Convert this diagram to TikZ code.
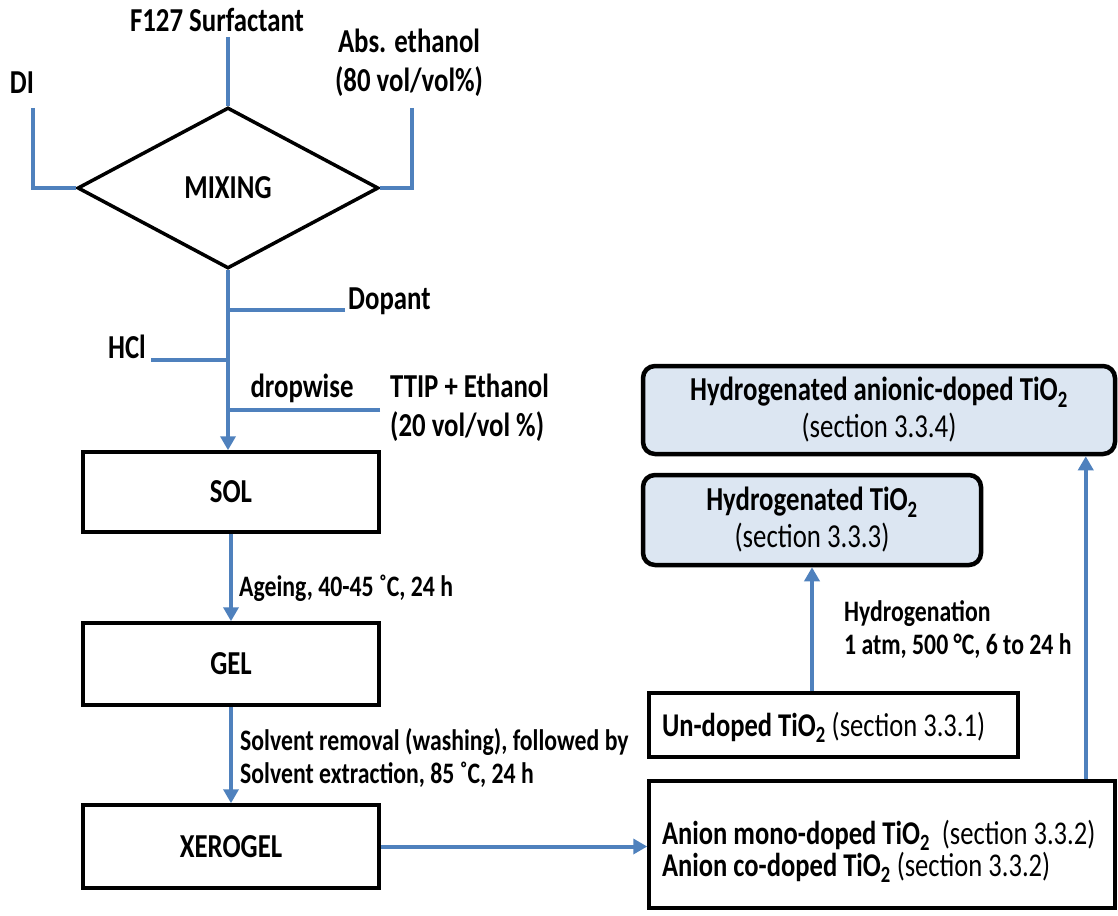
\documentclass[tikz,border=0pt]{standalone}
\usepackage{fontspec}
\setmainfont{Carlito}[FakeStretch=0.8]
\usetikzlibrary{shapes.geometric, arrows.meta, positioning}

\definecolor{flowblue}{HTML}{4F81BD}
\definecolor{resultfill}{HTML}{DCE6F2}

\newcommand{\bigtext}{\fontsize{33.5}{33}\selectfont\bfseries}
\newcommand{\labeltext}{\fontsize{29.7}{33}\selectfont\bfseries}

\tikzset{
  txt/.style={inner sep=0pt, font=\bigtext},
  lbl/.style={inner sep=0pt, anchor=west, align=left, font=\labeltext},
  stage/.style={draw, line width=3.5pt, minimum width=296pt, inner sep=0pt, font=\bigtext},
  mixer/.style={draw, diamond, line width=3.5pt, aspect=1.87, inner sep=0pt,
    minimum width=301pt, minimum height=161pt, font=\bigtext},
  result/.style={draw, line width=4.5pt, rounded corners=12pt, fill=resultfill,
    align=center, inner sep=0pt, font=\fontsize{33.5}{37}\selectfont\bfseries},
  product/.style={draw, line width=3.5pt, align=flush left, inner ysep=0pt,
    font=\fontsize{33.2}{32}\selectfont\bfseries},
  feed/.style={flowblue, line width=4pt},
  flow/.style={feed, -{Triangle[width=15pt,length=14pt]}},
}

\begin{document}
\begin{tikzpicture}[x=1pt, y=-1pt]
  \useasboundingbox (0,0) rectangle (1118,915);

  % mixing of the precursors
  \node[mixer] (mix) at (228,188) {MIXING};
  \node[txt] (f127) at (217,20) {F127 Surfactant};
  \node[txt] (di) at (22,83) {DI};
  \node[txt, align=center, font=\fontsize{33.5}{39}\selectfont\bfseries] (eth) at (409,63) {Abs. ethanol\\(80 vol/vol\%)};
  \coordinate (f127end) at (228,37);
  \coordinate (diend) at (33,108);
  \coordinate (ethend) at (412,108);
  \draw[feed] (f127end) -- (mix.north);
  \draw[feed] (diend) |- (mix.west);
  \draw[feed] (ethend) |- (mix.east);

  % additions on the way to the sol
  \node[txt, anchor=base west] (dopant) at (348,309) {Dopant};
  \node[txt, anchor=base east] (hcl) at (146,358) {HCl};
  \node[txt] (drop) at (302,388) {dropwise};
  \node[txt, anchor=west, align=left, font=\fontsize{33.5}{39}\selectfont\bfseries] (ttip) at (390,408) {TTIP + Ethanol\\(20 vol/vol \%)};
  \coordinate (dopend) at (345,310);
  \coordinate (hclend) at (151,360);
  \coordinate (ttipend) at (380,410);
  \draw[feed] (dopend) -- (dopend -| mix.south);
  \draw[feed] (hclend) -- (hclend -| mix.south);
  \draw[feed] (ttipend) -- (ttipend -| mix.south);

  % sol-gel stages
  \node[stage, minimum height=80pt] (sol) at (231,492) {SOL};
  \node[stage, minimum height=82pt] (gel) at (231,664) {GEL};
  \node[stage, minimum height=83pt] (xero) at (231,846.5) {XEROGEL};
  \draw[flow] (mix.south) -- (mix.south |- sol.north);
  \draw[flow] (sol) -- (gel);
  \draw[flow] (gel) -- (xero);
  \node[lbl] (age) at (239,588) {Ageing, 40-45 ˚C, 24 h};
  \node[lbl] (wash) at (240,758) {Solvent removal (washing), followed by\\Solvent extraction, 85 ˚C, 24 h};

  % products
  \node[product, minimum height=127pt, text width=440pt, inner xsep=13pt] (anion) at (882,844.5)
    {\rule{0pt}{38pt}Anion mono-doped TiO\textsubscript{2} \ {\mdseries(section 3.3.2)}\\Anion co-doped TiO\textsubscript{2} {\mdseries(section 3.3.2)}};
  \node[product, minimum height=64pt, text width=343pt, inner xsep=13pt] (undoped) at (833.5,725)
    {\rule{0pt}{29pt}Un-doped TiO\textsubscript{2} {\mdseries(section 3.3.1)}};
  \node[result, minimum width=338pt, minimum height=90pt] (hyd) at (812,520)
    {Hydrogenated TiO\textsubscript{2}\\{\mdseries(section 3.3.3)}};
  \node[result, minimum width=472pt, minimum height=88pt] (hyan) at (879,410)
    {Hydrogenated anionic-doped TiO\textsubscript{2}\\{\mdseries(section 3.3.4)}};
  \draw[flow] (xero.east) -- (xero.east -| anion.west);
  \draw[flow] (hyd.south |- undoped.north) -- (hyd.south);
  \draw[flow] ([xshift=-31pt]anion.north east) -- ([xshift=-31pt]anion.north east |- hyan.south);
  \node[lbl] (hydro) at (844,630) {Hydrogenation\\1 atm, 500 °C, 6 to 24 h};
\end{tikzpicture}
\end{document}
